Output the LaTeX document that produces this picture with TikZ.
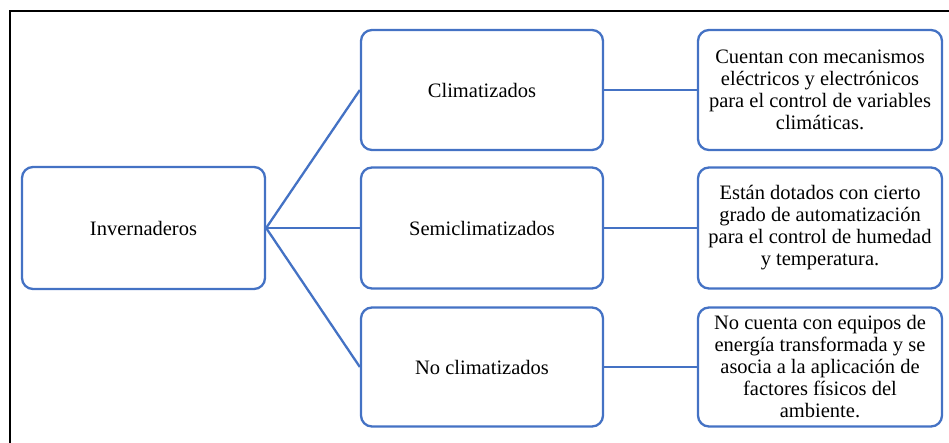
\documentclass[tikz,border=0pt]{standalone}
\usepackage{fontspec}
\setmainfont{Liberation Serif}
\begin{document}
\begin{tikzpicture}[x=1pt,y=-1pt,
  box/.style={draw=boxblue, line width=2.3pt, rounded corners=11pt, align=center,
    font=\fontsize{20.5}{22}\selectfont, inner sep=0pt},
  conn/.style={draw=boxblue, line width=2.3pt}]
\definecolor{boxblue}{HTML}{4472C4}
\useasboundingbox (0,0) rectangle (949,443);
\draw[black, line width=1.8pt] (10,443) -- (10,11) -- (949,11);
\node[box, minimum width=243pt, minimum height=122pt] (inv) at (143.5,228) {Invernaderos};
\node[box, minimum width=242pt, minimum height=120pt] (c1) at (482,90) {Climatizados};
\node[box, minimum width=242pt, minimum height=121pt] (c2) at (482,228) {Semiclimatizados};
\node[box, minimum width=242pt, minimum height=119pt] (c3) at (482,367) {No climatizados};
\node[box, minimum width=244pt, minimum height=120pt] (d1) at (820,90) {Cuentan con mecanismos\\eléctricos y electrónicos\\para el control de variables\\climáticas.};
\node[box, minimum width=244pt, minimum height=121pt] (d2) at (820,228) {Están dotados con cierto\\grado de automatización\\para el control de humedad\\y temperatura.};
\node[box, minimum width=244pt, minimum height=119pt] (d3) at (820,367) {No cuenta con equipos de\\energía transformada y se\\asocia a la aplicación de\\factores físicos del\\ambiente.};
\draw[conn] (inv.east) -- (c1.west);
\draw[conn] (inv.east) -- (c2.west);
\draw[conn] (inv.east) -- (c3.west);
\draw[conn] (c1.east) -- (d1.west);
\draw[conn] (c2.east) -- (d2.west);
\draw[conn] (c3.east) -- (d3.west);
\end{tikzpicture}
\end{document}
